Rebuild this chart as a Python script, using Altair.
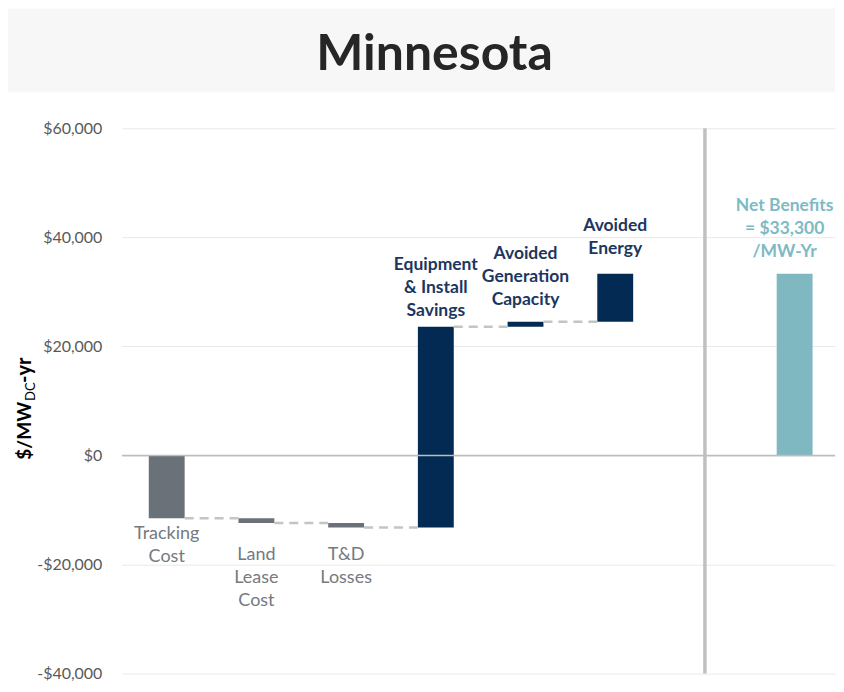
import altair as alt
import pandas as pd

# ---- data ----
categories = ["Tracking Cost", "Land Lease Cost", "T&D Losses",
              "Equipment & Install Savings", "Avoided Generation Capacity",
              "Avoided Energy", "Net Benefits"]
slots = [0, 1, 2, 3, 4, 5, 7]
changes = [-11500, -900, -800, 36800, 900, 8800]
net_benefit = 33300
kinds = ["cost", "cost", "cost", "benefit", "benefit", "benefit", "net"]
label_texts = ["Tracking|Cost", "Land|Lease|Cost", "T&D|Losses",
               "Equipment|& Install|Savings",
               "Avoided|Generation|Capacity",
               "Avoided|Energy",
               "Net Benefits|= $33,300|/MW-Yr"]
y_ticks = [-40000, -20000, 0, 20000, 40000, 60000]
separator_slot = 6
title_text = "Minnesota"

# ---- style ----
FONT = "Lato"
BAR_HALF = 0.2
kind_colors = {"cost": "#6b7178", "benefit": "#032a52", "net": "#7fb8c1"}
label_colors = {"cost": "#737a80", "benefit": "#1c3660", "net": "#7ebac4"}
# pixel offset of each label block's top from its bar end, and horizontal nudge
label_dy = [7, 23, 19, -71, -77, -57, -77]
label_dx = [0, 0, 0, 0, 0, 0, -10]
W, H = 714, 546

# ---- derived table ----
rows = []
level = 0
for i, ch in enumerate(changes):
    start, end = level, level + ch
    rows.append(dict(cat=categories[i], slot=float(slots[i]), start=float(start), end=float(end), kind=kinds[i]))
    level = end
rows.append(dict(cat=categories[-1], slot=float(slots[-1]), start=0.0, end=float(net_benefit), kind=kinds[-1]))
df = pd.DataFrame(rows)
df["x0"] = df["slot"] - BAR_HALF
df["x1"] = df["slot"] + BAR_HALF
df["low"] = df[["start", "end"]].min(axis=1)
df["high"] = df[["start", "end"]].max(axis=1)

conn = pd.DataFrame([dict(x0=float(df.slot[i] + BAR_HALF), x1=float(df.slot[i + 1] - BAR_HALF), y=float(df.end[i]))
                     for i in range(len(changes) - 1)])

xscale = alt.Scale(domain=[-0.5, 7.45], nice=False, zero=False)
yscale = alt.Scale(domain=[-40000, 60000], nice=False)

yaxis = alt.Axis(values=y_ticks, title=None, domain=False, ticks=False, grid=True,
                 gridColor="#e9e9e9", gridWidth=1, labelFont=FONT, labelFontSize=16,
                 labelColor="#595959", labelPadding=20,
                 labelExpr="datum.value < 0 ? '-$' + format(-datum.value, ',') : '$' + format(datum.value, ',')")

bars = alt.Chart(df).mark_rect().encode(
    x=alt.X("x0:Q", scale=xscale, axis=None),
    x2="x1:Q",
    y=alt.Y("low:Q", scale=yscale, axis=yaxis),
    y2="high:Q",
    color=alt.Color("kind:N", scale=alt.Scale(domain=list(kind_colors), range=list(kind_colors.values())), legend=None),
)

zero = alt.Chart(pd.DataFrame({"v": [0.0]})).mark_rule(color="#bdbdbd", strokeWidth=1.5).encode(
    y=alt.Y("v:Q", scale=yscale, axis=yaxis))

sep = alt.Chart(pd.DataFrame({"s": [float(separator_slot)]})).mark_rule(color="#c0c0c0", strokeWidth=3.5).encode(
    x=alt.X("s:Q", scale=xscale, axis=None))

connectors = alt.Chart(conn).mark_rule(color="#c4c4c4", strokeWidth=2.5, strokeDash=[9, 6]).encode(
    x=alt.X("x0:Q", scale=xscale, axis=None), x2="x1:Q", y=alt.Y("y:Q", scale=yscale, axis=yaxis))

label_layers = []
for i in range(len(categories)):
    is_cost = kinds[i] == "cost"
    d = pd.DataFrame([dict(slot=float(slots[i]), txt=label_texts[i],
                           anchor=float(df.low[i] if is_cost else df.high[i]))])
    label_layers.append(
        alt.Chart(d).mark_text(font=FONT, fontSize=18 if is_cost else 17.5,
                               fontWeight="normal" if is_cost else "bold",
                               color=label_colors[kinds[i]], lineHeight=23, lineBreak="|",
                               baseline="top", align="center", dy=label_dy[i], dx=label_dx[i]).encode(
            x=alt.X("slot:Q", scale=xscale, axis=None),
            y=alt.Y("anchor:Q", scale=yscale, axis=yaxis),
            text="txt:N")
    )

one = pd.DataFrame({"a": [0]})
title_bg = alt.Chart(one).mark_rect(color="#f7f7f7").encode(
    x=alt.value(-114), x2=alt.value(714), y=alt.value(-120), y2=alt.value(-36))
title = alt.Chart(one).mark_text(text=title_text, font=FONT, fontSize=50, fontWeight="bold",
                                 color="#262626", align="center", baseline="alphabetic").encode(
    x=alt.value(313), y=alt.value(-58))

ytitle_main = alt.Chart(one).mark_text(text="$/MW", font=FONT, fontSize=19, fontWeight="bold",
                                       color="#000000", angle=270, align="right", baseline="alphabetic").encode(
    x=alt.value(-91), y=alt.value(274))
ytitle_sub = alt.Chart(one).mark_text(text="DC", font=FONT, fontSize=13, fontWeight="normal",
                                      color="#000000", angle=270, align="left", baseline="alphabetic").encode(
    x=alt.value(-87), y=alt.value(273))
ytitle_end = alt.Chart(one).mark_text(text="-yr", font=FONT, fontSize=20, fontWeight="bold",
                                      color="#000000", angle=270, align="left", baseline="alphabetic").encode(
    x=alt.value(-91), y=alt.value(255))

chart = alt.layer(
    bars, title_bg, title, zero, sep, connectors, *label_layers,
    ytitle_main, ytitle_sub, ytitle_end
).properties(width=W, height=H, padding=0).configure_view(stroke=None)

chart.save("out.html", embed_options={"renderer": "svg", "actions": False})
